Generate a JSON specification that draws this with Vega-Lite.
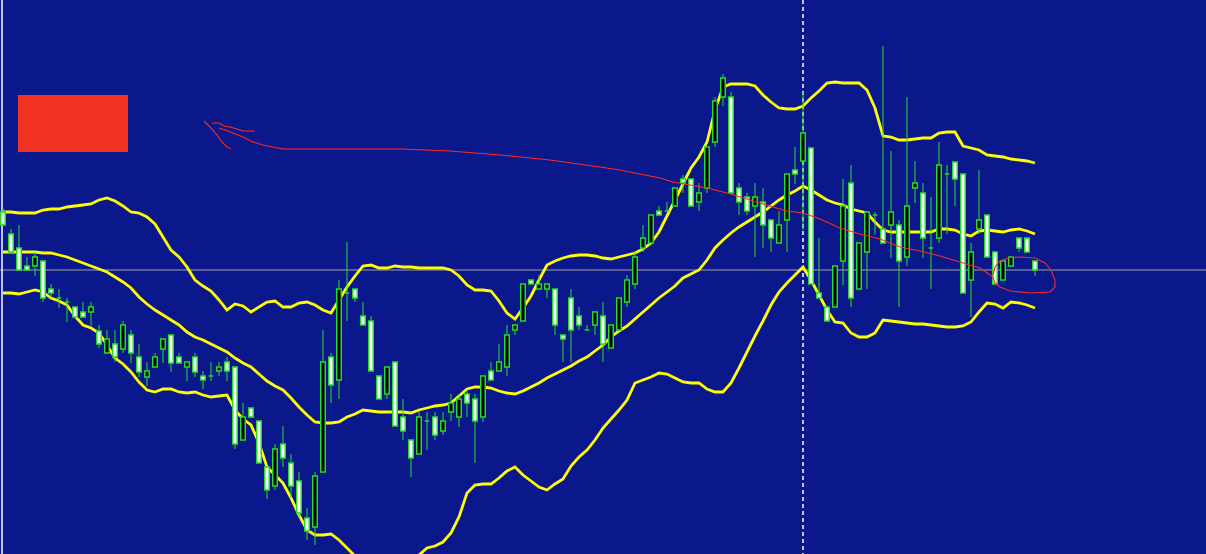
{
"$schema":"https://vega.github.io/schema/vega-lite/v6.json",
"width":1206,"height":554,"padding":0,"autosize":"none",
"background":"#0a188c",
"config":{"view":{"stroke":null},"scale":{"continuousPadding":0}},
"datasets":{
"candles":[
{"i":0,"o":1.2788,"h":1.2792,"l":1.2774,"c":1.2775},
{"i":1,"o":1.2766,"h":1.2771,"l":1.2747,"c":1.2748},
{"i":2,"o":1.2752,"h":1.2775,"l":1.2730,"c":1.2730},
{"i":3,"o":1.2734,"h":1.2743,"l":1.2730,"c":1.2730},
{"i":4,"o":1.2734,"h":1.2748,"l":1.2724,"c":1.2743},
{"i":5,"o":1.2739,"h":1.2739,"l":1.2698,"c":1.2702},
{"i":6,"o":1.2711,"h":1.2716,"l":1.2702,"c":1.2707},
{"i":7,"o":1.2702,"h":1.2711,"l":1.2692,"c":1.2702},
{"i":8,"o":1.2698,"h":1.2702,"l":1.2678,"c":1.2698},
{"i":9,"o":1.2693,"h":1.2693,"l":1.2683,"c":1.2683},
{"i":10,"o":1.2688,"h":1.2698,"l":1.2683,"c":1.2683},
{"i":11,"o":1.2688,"h":1.2698,"l":1.2674,"c":1.2693},
{"i":12,"o":1.2669,"h":1.2675,"l":1.2652,"c":1.2656},
{"i":13,"o":1.2647,"h":1.2670,"l":1.2647,"c":1.2661},
{"i":14,"o":1.2656,"h":1.2670,"l":1.2638,"c":1.2643},
{"i":15,"o":1.2651,"h":1.2679,"l":1.2647,"c":1.2675},
{"i":16,"o":1.2665,"h":1.2670,"l":1.2637,"c":1.2647},
{"i":17,"o":1.2643,"h":1.2656,"l":1.2623,"c":1.2628},
{"i":18,"o":1.2623,"h":1.2638,"l":1.2614,"c":1.2629},
{"i":19,"o":1.2633,"h":1.2647,"l":1.2633,"c":1.2643},
{"i":20,"o":1.2651,"h":1.2661,"l":1.2637,"c":1.2661},
{"i":21,"o":1.2665,"h":1.2665,"l":1.2628,"c":1.2637},
{"i":22,"o":1.2643,"h":1.2647,"l":1.2637,"c":1.2637},
{"i":23,"o":1.2633,"h":1.2638,"l":1.2619,"c":1.2638},
{"i":24,"o":1.2643,"h":1.2647,"l":1.2623,"c":1.2628},
{"i":25,"o":1.2624,"h":1.2629,"l":1.2611,"c":1.2620},
{"i":26,"o":1.2624,"h":1.2638,"l":1.2619,"c":1.2624},
{"i":27,"o":1.2629,"h":1.2638,"l":1.2624,"c":1.2633},
{"i":28,"o":1.2638,"h":1.2643,"l":1.2619,"c":1.2629},
{"i":29,"o":1.2633,"h":1.2633,"l":1.2551,"c":1.2556},
{"i":30,"o":1.2560,"h":1.2597,"l":1.2560,"c":1.2583},
{"i":31,"o":1.2592,"h":1.2592,"l":1.2583,"c":1.2583},
{"i":32,"o":1.2579,"h":1.2579,"l":1.2537,"c":1.2537},
{"i":33,"o":1.2533,"h":1.2533,"l":1.2501,"c":1.2510},
{"i":34,"o":1.2514,"h":1.2556,"l":1.2510,"c":1.2551},
{"i":35,"o":1.2556,"h":1.2574,"l":1.2533,"c":1.2542},
{"i":36,"o":1.2537,"h":1.2546,"l":1.2502,"c":1.2514},
{"i":37,"o":1.2519,"h":1.2528,"l":1.2482,"c":1.2487},
{"i":38,"o":1.2482,"h":1.2492,"l":1.2460,"c":1.2469},
{"i":39,"o":1.2473,"h":1.2528,"l":1.2455,"c":1.2524},
{"i":40,"o":1.2528,"h":1.2670,"l":1.2528,"c":1.2638},
{"i":41,"o":1.2643,"h":1.2647,"l":1.2597,"c":1.2615},
{"i":42,"o":1.2620,"h":1.2720,"l":1.2601,"c":1.2711},
{"i":43,"o":1.2707,"h":1.2758,"l":1.2679,"c":1.2707},
{"i":44,"o":1.2711,"h":1.2711,"l":1.2698,"c":1.2702},
{"i":45,"o":1.2684,"h":1.2698,"l":1.2675,"c":1.2675},
{"i":46,"o":1.2679,"h":1.2684,"l":1.2629,"c":1.2629},
{"i":47,"o":1.2624,"h":1.2624,"l":1.2601,"c":1.2601},
{"i":48,"o":1.2606,"h":1.2633,"l":1.2601,"c":1.2633},
{"i":49,"o":1.2638,"h":1.2638,"l":1.2574,"c":1.2574},
{"i":50,"o":1.2583,"h":1.2601,"l":1.2560,"c":1.2569},
{"i":51,"o":1.2560,"h":1.2560,"l":1.2523,"c":1.2542},
{"i":52,"o":1.2546,"h":1.2588,"l":1.2546,"c":1.2583},
{"i":53,"o":1.2579,"h":1.2588,"l":1.2550,"c":1.2579},
{"i":54,"o":1.2583,"h":1.2588,"l":1.2560,"c":1.2565},
{"i":55,"o":1.2569,"h":1.2588,"l":1.2565,"c":1.2579},
{"i":56,"o":1.2588,"h":1.2606,"l":1.2579,"c":1.2597},
{"i":57,"o":1.2583,"h":1.2606,"l":1.2573,"c":1.2601},
{"i":58,"o":1.2606,"h":1.2610,"l":1.2583,"c":1.2597},
{"i":59,"o":1.2601,"h":1.2606,"l":1.2537,"c":1.2579},
{"i":60,"o":1.2583,"h":1.2624,"l":1.2578,"c":1.2624},
{"i":61,"o":1.2629,"h":1.2638,"l":1.2620,"c":1.2620},
{"i":62,"o":1.2629,"h":1.2656,"l":1.2629,"c":1.2638},
{"i":63,"o":1.2633,"h":1.2675,"l":1.2624,"c":1.2665},
{"i":64,"o":1.2670,"h":1.2675,"l":1.2665,"c":1.2675},
{"i":65,"o":1.2679,"h":1.2716,"l":1.2679,"c":1.2716},
{"i":66,"o":1.2720,"h":1.2720,"l":1.2716,"c":1.2716},
{"i":67,"o":1.2711,"h":1.2725,"l":1.2711,"c":1.2716},
{"i":68,"o":1.2711,"h":1.2716,"l":1.2702,"c":1.2716},
{"i":69,"o":1.2711,"h":1.2711,"l":1.2665,"c":1.2675},
{"i":70,"o":1.2665,"h":1.2665,"l":1.2638,"c":1.2661},
{"i":71,"o":1.2702,"h":1.2711,"l":1.2638,"c":1.2670},
{"i":72,"o":1.2684,"h":1.2693,"l":1.2670,"c":1.2675},
{"i":73,"o":1.2670,"h":1.2675,"l":1.2670,"c":1.2670},
{"i":74,"o":1.2675,"h":1.2688,"l":1.2665,"c":1.2688},
{"i":75,"o":1.2684,"h":1.2698,"l":1.2638,"c":1.2656},
{"i":76,"o":1.2652,"h":1.2675,"l":1.2652,"c":1.2675},
{"i":77,"o":1.2670,"h":1.2702,"l":1.2670,"c":1.2702},
{"i":78,"o":1.2698,"h":1.2725,"l":1.2693,"c":1.2720},
{"i":79,"o":1.2716,"h":1.2748,"l":1.2711,"c":1.2743},
{"i":80,"o":1.2752,"h":1.2775,"l":1.2748,"c":1.2762},
{"i":81,"o":1.2757,"h":1.2785,"l":1.2757,"c":1.2785},
{"i":82,"o":1.2789,"h":1.2794,"l":1.2785,"c":1.2785},
{"i":83,"o":1.2789,"h":1.2798,"l":1.2789,"c":1.2789},
{"i":84,"o":1.2794,"h":1.2812,"l":1.2794,"c":1.2812},
{"i":85,"o":1.2821,"h":1.2825,"l":1.2807,"c":1.2817},
{"i":86,"o":1.2821,"h":1.2821,"l":1.2794,"c":1.2794},
{"i":87,"o":1.2798,"h":1.2817,"l":1.2789,"c":1.2807},
{"i":88,"o":1.2812,"h":1.2853,"l":1.2807,"c":1.2853},
{"i":89,"o":1.2858,"h":1.2903,"l":1.2853,"c":1.2899},
{"i":90,"o":1.2903,"h":1.2926,"l":1.2894,"c":1.2922},
{"i":91,"o":1.2903,"h":1.2908,"l":1.2807,"c":1.2807},
{"i":92,"o":1.2812,"h":1.2817,"l":1.2785,"c":1.2798},
{"i":93,"o":1.2803,"h":1.2807,"l":1.2785,"c":1.2789},
{"i":94,"o":1.2794,"h":1.2817,"l":1.2743,"c":1.2803},
{"i":95,"o":1.2798,"h":1.2812,"l":1.2752,"c":1.2775},
{"i":96,"o":1.2780,"h":1.2780,"l":1.2748,"c":1.2762},
{"i":97,"o":1.2757,"h":1.2789,"l":1.2757,"c":1.2775},
{"i":98,"o":1.2780,"h":1.2826,"l":1.2748,"c":1.2826},
{"i":99,"o":1.2830,"h":1.2853,"l":1.2816,"c":1.2826},
{"i":100,"o":1.2839,"h":1.2908,"l":1.2770,"c":1.2867},
{"i":101,"o":1.2852,"h":1.2852,"l":1.2716,"c":1.2716},
{"i":102,"o":1.2707,"h":1.2762,"l":1.2702,"c":1.2702},
{"i":103,"o":1.2693,"h":1.2693,"l":1.2679,"c":1.2679},
{"i":104,"o":1.2693,"h":1.2734,"l":1.2693,"c":1.2734},
{"i":105,"o":1.2739,"h":1.2821,"l":1.2715,"c":1.2794},
{"i":106,"o":1.2817,"h":1.2835,"l":1.2693,"c":1.2702},
{"i":107,"o":1.2711,"h":1.2757,"l":1.2711,"c":1.2757},
{"i":108,"o":1.2748,"h":1.2788,"l":1.2711,"c":1.2788},
{"i":109,"o":1.2785,"h":1.2788,"l":1.2766,"c":1.2785},
{"i":110,"o":1.2771,"h":1.2954,"l":1.2757,"c":1.2757},
{"i":111,"o":1.2775,"h":1.2849,"l":1.2742,"c":1.2788},
{"i":112,"o":1.2775,"h":1.2780,"l":1.2693,"c":1.2739},
{"i":113,"o":1.2743,"h":1.2903,"l":1.2734,"c":1.2794},
{"i":114,"o":1.2812,"h":1.2839,"l":1.2797,"c":1.2817},
{"i":115,"o":1.2807,"h":1.2817,"l":1.2742,"c":1.2762},
{"i":116,"o":1.2752,"h":1.2803,"l":1.2711,"c":1.2752},
{"i":117,"o":1.2762,"h":1.2858,"l":1.2757,"c":1.2835},
{"i":118,"o":1.2826,"h":1.2835,"l":1.2766,"c":1.2826},
{"i":119,"o":1.2838,"h":1.2838,"l":1.2794,"c":1.2821},
{"i":120,"o":1.2826,"h":1.2826,"l":1.2707,"c":1.2707},
{"i":121,"o":1.2720,"h":1.2757,"l":1.2683,"c":1.2748},
{"i":122,"o":1.2771,"h":1.2830,"l":1.2766,"c":1.2780},
{"i":123,"o":1.2785,"h":1.2785,"l":1.2743,"c":1.2743},
{"i":124,"o":1.2748,"h":1.2748,"l":1.2716,"c":1.2716},
{"i":125,"o":1.2720,"h":1.2739,"l":1.2720,"c":1.2739},
{"i":126,"o":1.2734,"h":1.2743,"l":1.2734,"c":1.2743},
{"i":127,"o":1.2762,"h":1.2762,"l":1.2748,"c":1.2752},
{"i":128,"o":1.2762,"h":1.2762,"l":1.2748,"c":1.2748},
{"i":129,"o":1.2739,"h":1.2739,"l":1.2724,"c":1.2730}
],
"bands":[
{"i":0,"u":1.2788,"m":1.2748,"l":1.2707},
{"i":1,"u":1.2788,"m":1.2748,"l":1.2707},
{"i":2,"u":1.2787,"m":1.2748,"l":1.2706},
{"i":3,"u":1.2787,"m":1.2748,"l":1.2708},
{"i":4,"u":1.2787,"m":1.2748,"l":1.2710},
{"i":5,"u":1.2790,"m":1.2747,"l":1.2708},
{"i":6,"u":1.2791,"m":1.2747,"l":1.2702},
{"i":7,"u":1.2791,"m":1.2745,"l":1.2699},
{"i":8,"u":1.2793,"m":1.2743,"l":1.2695},
{"i":9,"u":1.2794,"m":1.2740,"l":1.2684},
{"i":10,"u":1.2795,"m":1.2737,"l":1.2675},
{"i":11,"u":1.2796,"m":1.2734,"l":1.2672},
{"i":12,"u":1.2800,"m":1.2731,"l":1.2667},
{"i":13,"u":1.2802,"m":1.2728,"l":1.2655},
{"i":14,"u":1.2799,"m":1.2723,"l":1.2642},
{"i":15,"u":1.2794,"m":1.2718,"l":1.2636},
{"i":16,"u":1.2788,"m":1.2712,"l":1.2628},
{"i":17,"u":1.2787,"m":1.2703,"l":1.2618},
{"i":18,"u":1.2783,"m":1.2696,"l":1.2610},
{"i":19,"u":1.2776,"m":1.2690,"l":1.2608},
{"i":20,"u":1.2763,"m":1.2685,"l":1.2611},
{"i":21,"u":1.2750,"m":1.2680,"l":1.2611},
{"i":22,"u":1.2743,"m":1.2675,"l":1.2608},
{"i":23,"u":1.2733,"m":1.2668,"l":1.2607},
{"i":24,"u":1.2720,"m":1.2663,"l":1.2608},
{"i":25,"u":1.2714,"m":1.2660,"l":1.2605},
{"i":26,"u":1.2709,"m":1.2656,"l":1.2603},
{"i":27,"u":1.2700,"m":1.2652,"l":1.2604},
{"i":28,"u":1.2690,"m":1.2648,"l":1.2605},
{"i":29,"u":1.2696,"m":1.2642,"l":1.2590},
{"i":30,"u":1.2694,"m":1.2637,"l":1.2581},
{"i":31,"u":1.2688,"m":1.2633,"l":1.2575},
{"i":32,"u":1.2693,"m":1.2626,"l":1.2557},
{"i":33,"u":1.2698,"m":1.2619,"l":1.2533},
{"i":34,"u":1.2699,"m":1.2614,"l":1.2525},
{"i":35,"u":1.2693,"m":1.2610,"l":1.2517},
{"i":36,"u":1.2693,"m":1.2602,"l":1.2502},
{"i":37,"u":1.2697,"m":1.2593,"l":1.2485},
{"i":38,"u":1.2698,"m":1.2585,"l":1.2470},
{"i":39,"u":1.2695,"m":1.2578,"l":1.2465},
{"i":40,"u":1.2690,"m":1.2577,"l":1.2465},
{"i":41,"u":1.2687,"m":1.2577,"l":1.2466},
{"i":42,"u":1.2700,"m":1.2578,"l":1.2460},
{"i":43,"u":1.2713,"m":1.2583,"l":1.2452},
{"i":44,"u":1.2724,"m":1.2586,"l":1.2444},
{"i":45,"u":1.2734,"m":1.2590,"l":1.2438},
{"i":46,"u":1.2735,"m":1.2589,"l":1.2434},
{"i":47,"u":1.2732,"m":1.2588,"l":1.2432},
{"i":48,"u":1.2732,"m":1.2588,"l":1.2432},
{"i":49,"u":1.2734,"m":1.2588,"l":1.2434},
{"i":50,"u":1.2733,"m":1.2588,"l":1.2437},
{"i":51,"u":1.2733,"m":1.2587,"l":1.2441},
{"i":52,"u":1.2732,"m":1.2590,"l":1.2445},
{"i":53,"u":1.2732,"m":1.2592,"l":1.2452},
{"i":54,"u":1.2732,"m":1.2594,"l":1.2454},
{"i":55,"u":1.2732,"m":1.2595,"l":1.2458},
{"i":56,"u":1.2730,"m":1.2597,"l":1.2467},
{"i":57,"u":1.2724,"m":1.2604,"l":1.2483},
{"i":58,"u":1.2715,"m":1.2611,"l":1.2507},
{"i":59,"u":1.2710,"m":1.2613,"l":1.2515},
{"i":60,"u":1.2710,"m":1.2613,"l":1.2516},
{"i":61,"u":1.2709,"m":1.2612,"l":1.2516},
{"i":62,"u":1.2699,"m":1.2609,"l":1.2522},
{"i":63,"u":1.2687,"m":1.2607,"l":1.2529},
{"i":64,"u":1.2681,"m":1.2606,"l":1.2533},
{"i":65,"u":1.2692,"m":1.2609,"l":1.2525},
{"i":66,"u":1.2704,"m":1.2613,"l":1.2519},
{"i":67,"u":1.2720,"m":1.2617,"l":1.2513},
{"i":68,"u":1.2735,"m":1.2622,"l":1.2510},
{"i":69,"u":1.2739,"m":1.2626,"l":1.2516},
{"i":70,"u":1.2742,"m":1.2630,"l":1.2521},
{"i":71,"u":1.2744,"m":1.2634,"l":1.2534},
{"i":72,"u":1.2745,"m":1.2639,"l":1.2543},
{"i":73,"u":1.2745,"m":1.2643,"l":1.2550},
{"i":74,"u":1.2744,"m":1.2649,"l":1.2560},
{"i":75,"u":1.2742,"m":1.2655,"l":1.2572},
{"i":76,"u":1.2741,"m":1.2663,"l":1.2581},
{"i":77,"u":1.2743,"m":1.2669,"l":1.2590},
{"i":78,"u":1.2745,"m":1.2674,"l":1.2600},
{"i":79,"u":1.2747,"m":1.2681,"l":1.2617},
{"i":80,"u":1.2751,"m":1.2688,"l":1.2620},
{"i":81,"u":1.2757,"m":1.2695,"l":1.2623},
{"i":82,"u":1.2768,"m":1.2702,"l":1.2627},
{"i":83,"u":1.2784,"m":1.2708,"l":1.2626},
{"i":84,"u":1.2800,"m":1.2714,"l":1.2622},
{"i":85,"u":1.2816,"m":1.2722,"l":1.2618},
{"i":86,"u":1.2832,"m":1.2726,"l":1.2617},
{"i":87,"u":1.2843,"m":1.2730,"l":1.2617},
{"i":88,"u":1.2858,"m":1.2740,"l":1.2611},
{"i":89,"u":1.2890,"m":1.2752,"l":1.2608},
{"i":90,"u":1.2913,"m":1.2760,"l":1.2608},
{"i":91,"u":1.2916,"m":1.2767,"l":1.2617},
{"i":92,"u":1.2916,"m":1.2773,"l":1.2632},
{"i":93,"u":1.2916,"m":1.2778,"l":1.2648},
{"i":94,"u":1.2914,"m":1.2783,"l":1.2664},
{"i":95,"u":1.2905,"m":1.2788,"l":1.2679},
{"i":96,"u":1.2898,"m":1.2794,"l":1.2695},
{"i":97,"u":1.2892,"m":1.2800,"l":1.2708},
{"i":98,"u":1.2891,"m":1.2805,"l":1.2717},
{"i":99,"u":1.2891,"m":1.2809,"l":1.2725},
{"i":100,"u":1.2894,"m":1.2814,"l":1.2733},
{"i":101,"u":1.2902,"m":1.2810,"l":1.2720},
{"i":102,"u":1.2909,"m":1.2805,"l":1.2705},
{"i":103,"u":1.2917,"m":1.2800,"l":1.2690},
{"i":104,"u":1.2918,"m":1.2797,"l":1.2678},
{"i":105,"u":1.2917,"m":1.2795,"l":1.2677},
{"i":106,"u":1.2917,"m":1.2791,"l":1.2667},
{"i":107,"u":1.2917,"m":1.2789,"l":1.2663},
{"i":108,"u":1.2910,"m":1.2787,"l":1.2663},
{"i":109,"u":1.2892,"m":1.2778,"l":1.2667},
{"i":110,"u":1.2864,"m":1.2770,"l":1.2680},
{"i":111,"u":1.2863,"m":1.2768,"l":1.2679},
{"i":112,"u":1.2860,"m":1.2768,"l":1.2678},
{"i":113,"u":1.2860,"m":1.2768,"l":1.2677},
{"i":114,"u":1.2861,"m":1.2768,"l":1.2676},
{"i":115,"u":1.2862,"m":1.2768,"l":1.2676},
{"i":116,"u":1.2862,"m":1.2768,"l":1.2675},
{"i":117,"u":1.2867,"m":1.2771,"l":1.2674},
{"i":118,"u":1.2868,"m":1.2771,"l":1.2673},
{"i":119,"u":1.2868,"m":1.2770,"l":1.2673},
{"i":120,"u":1.2854,"m":1.2766,"l":1.2674},
{"i":121,"u":1.2852,"m":1.2764,"l":1.2678},
{"i":122,"u":1.2850,"m":1.2769,"l":1.2688},
{"i":123,"u":1.2845,"m":1.2770,"l":1.2697},
{"i":124,"u":1.2844,"m":1.2769,"l":1.2696},
{"i":125,"u":1.2843,"m":1.2768,"l":1.2692},
{"i":126,"u":1.2841,"m":1.2770,"l":1.2698},
{"i":127,"u":1.2840,"m":1.2771,"l":1.2697},
{"i":128,"u":1.2839,"m":1.2769,"l":1.2695},
{"i":129,"u":1.2837,"m":1.2766,"l":1.2692}
],
"drawing":[
{"g":"a","n":1,"i":25.125,"p":1.2879},
{"g":"a","n":2,"i":25.625,"p":1.2875},
{"g":"a","n":3,"i":26.25,"p":1.2870},
{"g":"a","n":4,"i":26.75,"p":1.2865},
{"g":"a","n":5,"i":27.375,"p":1.2858},
{"g":"a","n":6,"i":28,"p":1.2853},
{"g":"a","n":7,"i":28.5,"p":1.2851},
{"g":"b","n":1,"i":26.125,"p":1.2877},
{"g":"b","n":2,"i":27,"p":1.2877},
{"g":"b","n":3,"i":27.625,"p":1.2874},
{"g":"b","n":4,"i":28.375,"p":1.2873},
{"g":"b","n":5,"i":29.25,"p":1.2871},
{"g":"b","n":6,"i":30,"p":1.2869},
{"g":"b","n":7,"i":31.5,"p":1.2869},
{"g":"c","n":1,"i":27,"p":1.2872},
{"g":"c","n":2,"i":27.75,"p":1.2870},
{"g":"c","n":3,"i":28.75,"p":1.2867},
{"g":"c","n":4,"i":30,"p":1.2863},
{"g":"c","n":5,"i":31.25,"p":1.2858},
{"g":"c","n":6,"i":32.5,"p":1.2855},
{"g":"c","n":7,"i":33.75,"p":1.2853},
{"g":"c","n":8,"i":35,"p":1.2851},
{"g":"c","n":9,"i":37,"p":1.2851},
{"g":"c","n":10,"i":43.375,"p":1.2851},
{"g":"c","n":11,"i":49.625,"p":1.2851},
{"g":"c","n":12,"i":55.875,"p":1.2849},
{"g":"c","n":13,"i":62.125,"p":1.2845},
{"g":"c","n":14,"i":68.375,"p":1.2840},
{"g":"c","n":15,"i":74.625,"p":1.2833},
{"g":"c","n":16,"i":77.125,"p":1.2830},
{"g":"c","n":17,"i":79.625,"p":1.2826},
{"g":"c","n":18,"i":82.125,"p":1.2822},
{"g":"c","n":19,"i":83.75,"p":1.2818},
{"g":"c","n":20,"i":85.875,"p":1.2815},
{"g":"c","n":21,"i":88,"p":1.2812},
{"g":"c","n":22,"i":90.5,"p":1.2807},
{"g":"c","n":23,"i":93.375,"p":1.2800},
{"g":"c","n":24,"i":96.25,"p":1.2793},
{"g":"c","n":25,"i":98,"p":1.2789},
{"g":"c","n":26,"i":100,"p":1.2787},
{"g":"c","n":27,"i":102.125,"p":1.2781},
{"g":"c","n":28,"i":104.625,"p":1.2772},
{"g":"c","n":29,"i":107.125,"p":1.2766},
{"g":"c","n":30,"i":109.625,"p":1.2761},
{"g":"c","n":31,"i":112.125,"p":1.2753},
{"g":"c","n":32,"i":114.625,"p":1.2749},
{"g":"c","n":33,"i":117.125,"p":1.2744},
{"g":"c","n":34,"i":119.625,"p":1.2738},
{"g":"c","n":35,"i":122.125,"p":1.2732},
{"g":"c","n":36,"i":123.75,"p":1.2723},
{"g":"c","n":37,"i":124,"p":1.2717},
{"g":"c","n":38,"i":124.625,"p":1.2713},
{"g":"c","n":39,"i":125.875,"p":1.2709},
{"g":"c","n":40,"i":128.375,"p":1.2707},
{"g":"c","n":41,"i":130.875,"p":1.2708},
{"g":"c","n":42,"i":131.5,"p":1.2713},
{"g":"c","n":43,"i":131.5,"p":1.2720},
{"g":"c","n":44,"i":131,"p":1.2730},
{"g":"c","n":45,"i":130.25,"p":1.2737},
{"g":"c","n":46,"i":129,"p":1.2742},
{"g":"c","n":47,"i":127.125,"p":1.2743},
{"g":"c","n":48,"i":125.625,"p":1.2742},
{"g":"c","n":49,"i":124.625,"p":1.2739},
{"g":"c","n":50,"i":124,"p":1.2733},
{"g":"c","n":51,"i":123.75,"p":1.2725}
],
"box":[{"i1":1.875,"i2":15.625,"p1":1.2905,"p2":1.2848}],
"hline":[{"p":1.2730}],
"vline":[{"i":100}],
"edge":[{"i":-0.125}]
},
"layer":[
{"data":{"name":"box"},"mark":{"type":"rect","color":"#f03222"},
 "encoding":{"x":{"field":"i1","type":"quantitative","scale":{"domain":[-0.375,150.375],"nice":false,"zero":false,"padding":0},"axis":null},"x2":{"field":"i2"},
 "y":{"field":"p1","type":"quantitative","scale":{"domain":[1.2446,1.3],"nice":false,"zero":false,"padding":0},"axis":null},"y2":{"field":"p2"}}},
{"data":{"name":"hline"},"mark":{"type":"rule","color":"#a0a0a0","strokeWidth":1},
 "encoding":{"y":{"field":"p","type":"quantitative","axis":null}}},
{"data":{"name":"vline"},"mark":{"type":"rule","color":"#ffffff","strokeWidth":1.5,"strokeDash":[4,3]},
 "encoding":{"x":{"field":"i","type":"quantitative","axis":null}}},
{"data":{"name":"edge"},"mark":{"type":"rule","color":"#ffffff","strokeWidth":1.5},
 "encoding":{"x":{"field":"i","type":"quantitative","axis":null}}},
{"data":{"name":"bands"},"mark":{"type":"line","color":"#ffff00","strokeWidth":2.8,"clip":true},
 "encoding":{"x":{"field":"i","type":"quantitative","axis":null},"y":{"field":"u","type":"quantitative","axis":null}}},
{"data":{"name":"bands"},"mark":{"type":"line","color":"#ffff00","strokeWidth":2.8,"clip":true},
 "encoding":{"x":{"field":"i","type":"quantitative","axis":null},"y":{"field":"m","type":"quantitative","axis":null}}},
{"data":{"name":"bands"},"mark":{"type":"line","color":"#ffff00","strokeWidth":2.8,"clip":true},
 "encoding":{"x":{"field":"i","type":"quantitative","axis":null},"y":{"field":"l","type":"quantitative","axis":null}}},
{"data":{"name":"candles"},"mark":{"type":"rule","color":"#22dd22","strokeWidth":1},
 "encoding":{"x":{"field":"i","type":"quantitative","axis":null},"y":{"field":"l","type":"quantitative","axis":null},"y2":{"field":"h"}}},
{"data":{"name":"candles"},"mark":{"type":"bar","orient":"vertical","size":4.5,"stroke":"#22dd22","strokeWidth":1.5},
 "encoding":{"x":{"field":"i","type":"quantitative","axis":null},"y":{"field":"o","type":"quantitative","axis":null},"y2":{"field":"c"},
 "fill":{"condition":{"test":"datum.c > datum.o","value":"#000000"},"value":"#ffffff"}}},
{"data":{"name":"drawing"},"mark":{"type":"line","color":"#ff2a1a","strokeWidth":1.1,"clip":true},
 "encoding":{"x":{"field":"i","type":"quantitative","axis":null},"y":{"field":"p","type":"quantitative","axis":null},"detail":{"field":"g"},"order":{"field":"n","type":"quantitative"}}}
]
}
